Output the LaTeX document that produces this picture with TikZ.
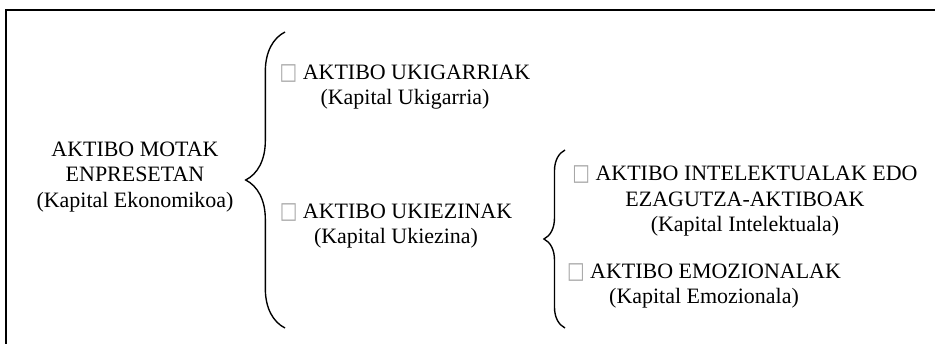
\documentclass[tikz,border=0pt]{standalone}
\usepackage{fontspec}
\setmainfont{Liberation Serif}
\newfontfamily\symfont{DejaVu Sans}
\usetikzlibrary{decorations.pathreplacing}
\newcommand{\bx}{{\color{gray!70}\symfont\scalebox{0.85}[1.05]{□}}}

\begin{document}
\begin{tikzpicture}[x = 0.5465pt, y = -0.5465pt, font=\fontsize{12}{14}\selectfont]
	\tikzstyle{frameStyle} = [line width = 1.2pt]
	\tikzstyle{textStyle} = [align = center, inner sep = 0pt]
	\tikzstyle{braceStyle} = [decorate, line width = 0.75pt]
	\useasboundingbox (0,0) rectangle (935,344);
	\draw[frameStyle] (940,10) -- (6,10) -- (6,350);
	\node[textStyle] (types) at (135,177) {AKTIBO MOTAK\\ENPRESETAN\\(Kapital Ekonomikoa)};
	\node[textStyle] (tangible) at (405,87) {\bx{} AKTIBO UKIGARRIAK\\(Kapital Ukigarria)};
	\node[textStyle] (intangible) at (396,226) {\bx{} AKTIBO UKIEZINAK\\(Kapital Ukiezina)};
	\node[textStyle] (intellect) at (745,201) {\bx{} AKTIBO INTELEKTUALAK EDO\\EZAGUTZA-AKTIBOAK\\(Kapital Intelektuala)};
	\node[textStyle] (emotion) at (704,286) {\bx{} AKTIBO EMOZIONALAK\\(Kapital Emozionala)};
	\coordinate (b1bot) at (285,328);
	\coordinate (b1top) at (285,32);
	\coordinate (b2bot) at (565,328);
	\coordinate (b2top) at (565,150);
	\draw[braceStyle, decoration = {brace, amplitude = 21.5pt}] (b1bot) -- (b1top);
	\draw[braceStyle, decoration = {brace, amplitude = 11.5pt}] (b2bot) -- (b2top);
\end{tikzpicture}
\end{document}
